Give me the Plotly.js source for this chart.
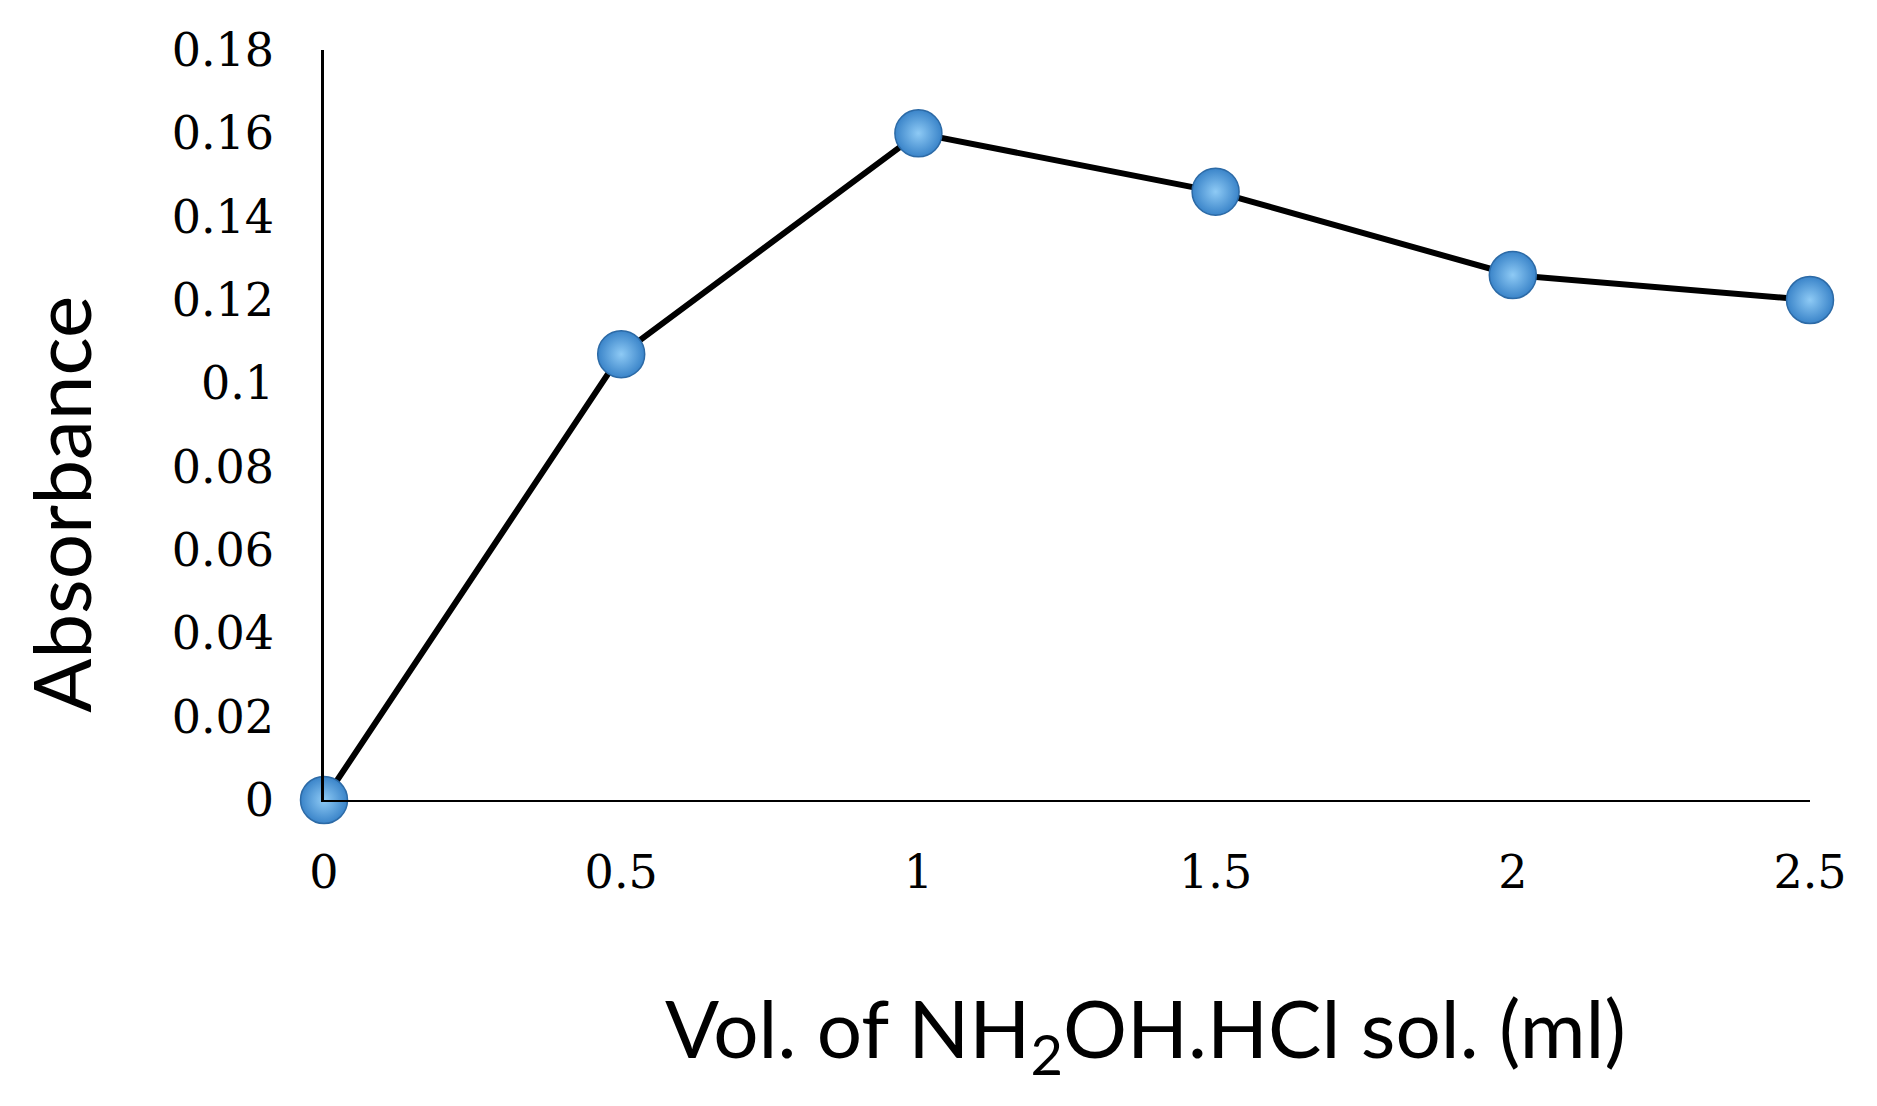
<!DOCTYPE html>
<html>
<head>
<meta charset="utf-8">
<script src="https://cdn.plot.ly/plotly-3.0.1.min.js"></script>
<style>
  html, body { margin: 0; padding: 0; background: #fff; }
  #chart { width: 1877px; height: 1106px; }
</style>
</head>
<body>
<div id="chart"></div>
<script>
// Data
const volumes = [0, 0.5, 1, 1.5, 2, 2.5];
const absorbance = [0, 0.107, 0.16, 0.146, 0.126, 0.12];

const xTickVals = [0, 0.5, 1, 1.5, 2, 2.5];
const xTickText = ["0", "0.5", "1", "1.5", "2", "2.5"];
const yTickVals = [0, 0.02, 0.04, 0.06, 0.08, 0.1, 0.12, 0.14, 0.16, 0.18];
const yTickText = ["0", "0.02", "0.04", "0.06", "0.08", "0.1", "0.12", "0.14", "0.16", "0.18"];

const xTitle = "Vol. of NH<sub>2</sub>OH.HCl sol. (ml)";
const yTitle = "Absorbance";

const trace = {
  x: volumes,
  y: absorbance,
  type: "scatter",
  mode: "lines+markers",
  cliponaxis: false,
  line: { color: "#000000", width: 6 },
  marker: {
    size: 47,
    color: "#3a84c9",
    gradient: { type: "radial", color: "#8ecaf5" },
    line: { color: "#2c6aa6", width: 1.5 }
  },
  hoverinfo: "x+y"
};

const titleFont = { family: "Lato, Open Sans, sans-serif", color: "#000" };

const layout = {
  width: 1877,
  height: 1106,
  paper_bgcolor: "#ffffff",
  plot_bgcolor: "#ffffff",
  showlegend: false,
  margin: { l: 324, r: 67, t: 50, b: 306 },
  xaxis: {
    range: [0, 2.5],
    tickvals: xTickVals,
    ticktext: xTickText,
    showgrid: false,
    zeroline: false,
    showline: true,
    linecolor: "#000000",
    linewidth: 2,
    ticks: "",
    ticklabelstandoff: 31,
    tickfont: { family: "DejaVu Serif, serif", size: 46, color: "#000" }
  },
  yaxis: {
    range: [0, 0.18],
    tickvals: yTickVals,
    ticktext: yTickText,
    showgrid: false,
    zeroline: false,
    showline: true,
    linecolor: "#000000",
    linewidth: 2.5,
    ticks: "",
    ticklabelstandoff: 38,
    tickfont: { family: "DejaVu Serif, serif", size: 46, color: "#000" }
  },
  annotations: [
    {
      text: xTitle,
      xref: "paper", yref: "paper",
      x: 0.553, y: -0.311,
      xanchor: "center", yanchor: "middle",
      showarrow: false,
      font: Object.assign({ size: 80 }, titleFont)
    },
    {
      text: yTitle,
      xref: "paper", yref: "paper",
      x: -0.1777, y: 0.395,
      xanchor: "center", yanchor: "middle",
      textangle: -90,
      showarrow: false,
      font: Object.assign({ size: 80 }, titleFont)
    }
  ]
};

Plotly.newPlot("chart", [trace], layout, { displayModeBar: false });
</script>
</body>
</html>
